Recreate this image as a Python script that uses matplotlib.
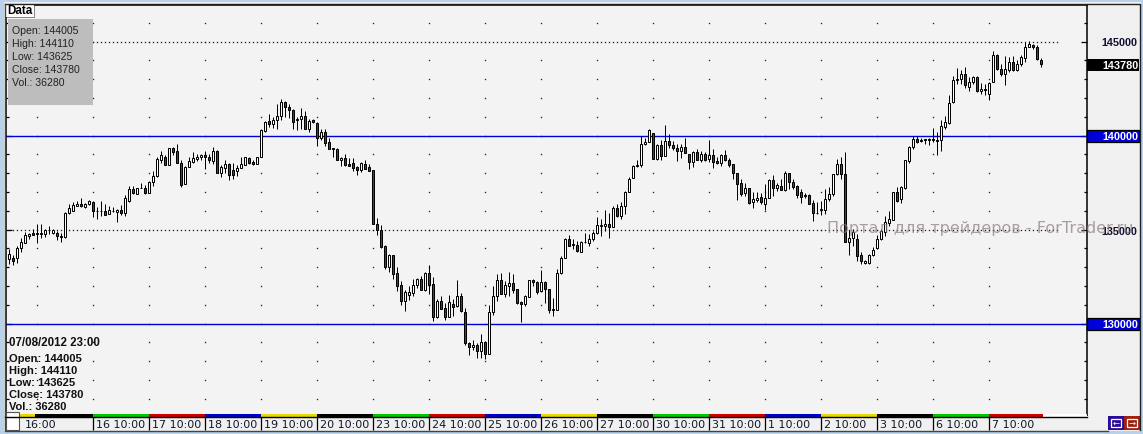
import numpy as np
import matplotlib
matplotlib.use('Agg')
import matplotlib.pyplot as plt
from matplotlib.patches import Rectangle
from matplotlib.transforms import ScaledTranslation

# hourly bars, 14 per trading day
wick_high = [
    133950, 133640, 134100, 134570, 134880, 134840, 135020, 135280, 135280, 135050, 135160, 135050, 134930, 134810,
    135940, 136350, 136470, 136530, 136650, 136400, 136560, 136510, 136220, 136490, 136350, 136260, 136220, 136080,
    136290, 136830, 137290, 137290, 137230, 137500, 137360, 137590, 138100, 138830, 139170, 138950, 139340, 139410,
    139540, 138710, 138390, 138830, 139100, 139040, 139010, 139180, 139010, 139410, 139240, 138420, 138690, 138560,
    138530, 138420, 138880, 138830, 138880, 138690, 138880, 140370, 140780, 141170, 140960, 141670, 141930, 141830,
    141700, 141400, 140960, 141460, 141320, 140870, 140870, 140730, 140370, 140340, 139890, 139310, 139310, 138830,
    139010, 138780, 138780, 138390, 138600, 138690, 138480, 138160, 135600, 135230, 134170, 133690, 133630, 132980,
    132270, 131760, 131970, 132390, 132430, 132540, 132730, 133100, 132500, 131290, 131470, 131080, 131510, 131290,
    132290, 131600, 130830, 128990, 129100, 128950, 129430, 129080, 130980, 131970, 132620, 132680, 132270, 132730,
    132610, 131860, 131210, 131540, 132340, 132390, 132270, 132820, 132250, 131860, 131380, 132890, 133600, 134570,
    134700, 134490, 134400, 134400, 134790, 134750, 134930, 135660, 135550, 136030, 135900, 136260, 136330, 136440,
    137070, 137770, 138440, 138690, 139950, 139890, 140340, 140120, 139570, 139770, 140550, 140070, 139720, 139570,
    139570, 139860, 139010, 139180, 139260, 139180, 139100, 139750, 139260, 138880, 139010, 139240, 138780, 138510,
    138000, 137680, 137460, 137230, 136970, 137000, 136950, 137410, 137680, 137890, 137500, 137710, 138120, 138030,
    137680, 137390, 137150, 136930, 136910, 136560, 136440, 136490, 137180, 137270, 137940, 138740, 138880, 139130,
    134980, 135020, 134750, 133790, 133400, 133710, 134060, 134720, 135040, 135740, 135960, 137020, 137250, 137340,
    138690, 139430, 140000, 139960, 139890, 139820, 139860, 140390, 140180, 140850, 141030, 142130, 143190, 143580,
    143460, 143630, 143100, 143160, 143160, 142780, 142750, 142840, 144490, 144340, 143780, 144220, 144170, 144220,
    143990, 144290, 145000, 145050, 144860, 144840, 144110,
]
body_high = [
    133690, 133480, 133990, 134310, 134700, 134750, 134790, 134790, 134790, 134970, 135000, 135000, 134840, 134680,
    135900, 136120, 136280, 136380, 136380, 136370, 136490, 136470, 136010, 135980, 135960, 136030, 136010, 136060,
    136060, 136650, 137180, 137180, 137220, 137230, 137230, 137550, 137820, 138740, 138940, 138880, 139330, 139310,
    139150, 138560, 138350, 138620, 138780, 138880, 138940, 138940, 138830, 139170, 139170, 138300, 138460, 138460,
    138160, 138260, 138460, 138830, 138790, 138580, 138850, 140270, 140740, 140760, 140830, 141050, 141760, 141760,
    141540, 141370, 140900, 141060, 141060, 140750, 140800, 140690, 140210, 140210, 139630, 139310, 139270, 138810,
    138780, 138460, 138560, 138300, 138530, 138510, 138300, 138140, 135270, 135000, 134100, 133630, 133620, 132680,
    132070, 131650, 131650, 132070, 132390, 132390, 132710, 132680, 132090, 131220, 131220, 130800, 131120, 131060,
    131440, 131440, 130590, 128970, 128870, 128880, 129040, 129040, 130590, 131440, 132290, 132290, 132040, 132130,
    132130, 131830, 131120, 131440, 132340, 132340, 132220, 132230, 132230, 131810, 130750, 132660, 133460, 134520,
    134520, 134220, 134200, 134360, 134340, 134470, 134790, 135250, 135250, 135300, 135270, 136120, 136120, 136260,
    137020, 137710, 138400, 138440, 139570, 139680, 140270, 140110, 139470, 139470, 139730, 139730, 139520, 139340,
    139410, 139410, 138990, 139100, 139100, 138990, 138990, 138940, 138940, 138620, 138950, 138940, 138720, 138480,
    137980, 137500, 137230, 137220, 136600, 136700, 136720, 136650, 137620, 137610, 137390, 137320, 138000, 137980,
    137550, 137310, 137020, 136810, 136810, 136400, 135900, 136080, 136610, 136910, 137930, 138460, 138460, 137930,
    134570, 134890, 134520, 133630, 133320, 133630, 133920, 134500, 134910, 135390, 135550, 137000, 137000, 137250,
    138690, 139380, 139800, 139790, 139770, 139790, 139800, 139790, 139750, 140500, 140710, 141720, 142940, 143000,
    143280, 143280, 142850, 143100, 143120, 142460, 142460, 142780, 144270, 144290, 143560, 143530, 143900, 143900,
    143810, 144170, 144730, 144860, 144840, 144730, 144005,
]
body_low = [
    133420, 133330, 133460, 134030, 134290, 134660, 134730, 134770, 134770, 134750, 134950, 134810, 134660, 134610,
    134610, 135870, 135990, 136260, 136260, 136220, 136350, 135990, 135960, 135960, 135780, 135830, 135960, 135940,
    135870, 135900, 136530, 136950, 136910, 137220, 136950, 136950, 137550, 137820, 138710, 138440, 138440, 139130,
    138550, 137380, 137430, 138330, 138600, 138740, 138870, 138830, 138690, 138650, 138030, 138030, 138280, 137910,
    137890, 138120, 138280, 138440, 138550, 138510, 138510, 138830, 140230, 140620, 140620, 140830, 141050, 141520,
    141370, 140740, 140800, 140890, 140350, 140350, 140730, 139880, 139860, 139610, 139290, 139260, 138720, 138710,
    138440, 138400, 138280, 138190, 138190, 138240, 138120, 135270, 135000, 134080, 133010, 133010, 132640, 132000,
    131210, 131210, 131530, 131630, 132060, 131790, 131790, 132060, 130350, 130350, 130780, 130350, 130350, 130900,
    130940, 130640, 128970, 128760, 128760, 128550, 128560, 128390, 128390, 130590, 131440, 131580, 131560, 132000,
    131790, 131100, 131060, 131050, 131420, 132230, 131670, 131740, 131810, 130730, 130730, 130730, 132660, 133510,
    134130, 134180, 133830, 133810, 134310, 134290, 134470, 134790, 135200, 135200, 135140, 135140, 135730, 135730,
    136260, 137000, 137750, 138390, 138420, 139560, 139680, 138760, 138760, 138920, 138920, 139500, 139340, 139200,
    139180, 139080, 138600, 138600, 138710, 138720, 138720, 138760, 138600, 138560, 138550, 138720, 138420, 137980,
    137430, 136900, 136950, 136420, 136470, 136580, 136440, 136370, 136650, 137230, 137200, 137110, 137090, 137540,
    137270, 136840, 136740, 136770, 136370, 135900, 135890, 136050, 136060, 136630, 136900, 137930, 137930, 134340,
    134340, 134570, 133600, 133300, 133240, 133210, 133620, 134020, 134470, 134890, 135370, 135530, 136540, 136610,
    137230, 138650, 139380, 139660, 139700, 139750, 139750, 139750, 139730, 139750, 140460, 140670, 141760, 142940,
    143000, 142710, 142570, 142840, 142360, 142360, 142410, 142230, 142820, 143550, 143260, 143260, 143510, 143460,
    143460, 143780, 144110, 144730, 144730, 144060, 143780,
]
wick_low = [
    133160, 133100, 133210, 133780, 134290, 134490, 134700, 134270, 134570, 134610, 134750, 134750, 134450, 134340,
    134570, 135820, 135990, 136240, 136220, 136120, 136290, 135690, 135550, 135730, 135760, 135800, 135940, 135410,
    135760, 135730, 136470, 136880, 136910, 137220, 136910, 136950, 137320, 137800, 138530, 138440, 138440, 138950,
    138550, 137270, 137430, 138330, 138530, 138670, 138710, 138210, 138560, 138480, 138000, 137800, 137980, 137620,
    137680, 137820, 138280, 138440, 138480, 138440, 138490, 138830, 140200, 140460, 140410, 140320, 140830, 141010,
    140920, 140340, 140280, 140370, 140350, 140180, 140640, 139450, 139770, 139450, 139270, 138870, 138720, 138390,
    138390, 138390, 138120, 137890, 138070, 138210, 138120, 135270, 134700, 134030, 132890, 132750, 132390, 131720,
    130980, 130660, 131260, 131470, 131900, 131760, 131720, 131560, 130120, 130280, 130780, 130180, 130320, 130410,
    130870, 130620, 128870, 128330, 128600, 128170, 128170, 128120, 128390, 130440, 131210, 131560, 131420, 131470,
    131610, 131060, 130090, 130940, 131420, 132000, 131560, 131700, 131100, 130550, 130410, 130730, 132620, 133510,
    134100, 133950, 133780, 133790, 134270, 134130, 134400, 134770, 134660, 134930, 134560, 135140, 135640, 135550,
    135820, 137000, 137750, 138330, 138320, 139520, 139630, 138740, 138690, 138710, 138920, 139360, 139240, 138630,
    138780, 139080, 138230, 138320, 138710, 138600, 138620, 138600, 138260, 138480, 138400, 138630, 138350, 137680,
    136580, 136790, 136790, 136350, 136130, 136440, 136380, 136050, 136650, 136790, 137060, 137110, 137040, 137180,
    137180, 136670, 136420, 136680, 136330, 135440, 135820, 135760, 135820, 136520, 136790, 137890, 137680, 134340,
    133630, 134130, 133330, 133140, 133140, 133140, 133580, 133970, 134430, 134680, 135180, 135530, 136470, 136420,
    137130, 138550, 139260, 139610, 139660, 139560, 139520, 139680, 138940, 139180, 140370, 140600, 141740, 142750,
    142730, 142540, 142390, 142750, 142340, 142220, 142180, 141910, 142820, 143460, 143190, 142660, 143370, 143440,
    143440, 143720, 143900, 144720, 144610, 144040, 143625,
]
up_bars = [
    1, 0, 1, 1, 1, 1, 0, 1, 1, 1, 0, 1, 0, 0,
    1, 1, 1, 1, 0, 1, 1, 0, 0, 1, 0, 1, 0, 1,
    0, 1, 1, 0, 1, 1, 0, 1, 1, 1, 1, 0, 1, 0,
    0, 0, 1, 1, 1, 1, 1, 0, 0, 1, 0, 1, 1, 0,
    0, 1, 1, 1, 0, 0, 1, 1, 1, 0, 1, 1, 1, 0,
    0, 0, 1, 1, 0, 1, 0, 0, 1, 0, 0, 0, 0, 1,
    0, 0, 0, 0, 1, 0, 0, 0, 0, 0, 0, 1, 0, 0,
    0, 1, 1, 1, 1, 0, 1, 0, 0, 1, 0, 0, 1, 0,
    1, 0, 0, 0, 1, 0, 1, 0, 1, 1, 1, 0, 1, 1,
    0, 0, 0, 1, 1, 0, 0, 1, 0, 0, 1, 1, 1, 1,
    0, 1, 0, 1, 0, 1, 1, 1, 1, 1, 0, 1, 0, 1,
    1, 1, 1, 1, 1, 1, 1, 0, 1, 0, 1, 0, 0, 0,
    1, 0, 0, 1, 0, 1, 0, 1, 0, 0, 1, 0, 0, 0,
    0, 0, 1, 0, 1, 1, 0, 1, 1, 0, 1, 0, 1, 0,
    0, 0, 0, 1, 0, 0, 1, 1, 1, 1, 1, 1, 0, 0,
    1, 1, 0, 0, 1, 1, 1, 1, 1, 1, 1, 1, 0, 1,
    1, 1, 1, 0, 0, 1, 1, 0, 0, 1, 1, 1, 1, 0,
    1, 0, 1, 1, 0, 1, 0, 1, 1, 0, 0, 1, 1, 0,
    1, 1, 1, 1, 0, 0, 0,
]

day_labels = ['16 10:00', '17 10:00', '18 10:00', '19 10:00', '20 10:00', '23 10:00', '24 10:00',
              '25 10:00', '26 10:00', '27 10:00', '30 10:00', '31 10:00', '1 10:00', '2 10:00',
              '3 10:00', '6 10:00', '7 10:00']
day_colors = ['#00c800', '#d00000', '#0000c8', '#e6d800', '#000000']
ohlc_lines = ['Open: 144005', 'High: 144110', 'Low: 143625', 'Close: 143780', 'Vol.: 36280']
hlines = [140000, 130000]
dotted_levels = [145000, 135000]
WATERMARK = 'Портал для трейдеров - ForTrader.ru'

W, H = 1143, 435
BAR_PX = 4.0
X0_PX = 9.3           # pixel centre of bar 0
LEFT, RIGHT, TOP, BOTTOM = 6, 1087, 6, 416
PX_PER_1000 = 18.8


def price_at(y_px):
    return 145000 - (y_px - 42.5) / PX_PER_1000 * 1000


def bar_at(x_px):
    return (x_px - X0_PX) / BAR_PX


fig = plt.figure(figsize=(W / 100, H / 100), dpi=100, facecolor='#f0f0f0')

# main chart axes
ax = fig.add_axes([LEFT / W, 1 - BOTTOM / H, (RIGHT - LEFT) / W, (BOTTOM - TOP) / H], zorder=1)
ax.set_facecolor('#f3f3f3')
ax.set_xlim(bar_at(LEFT), bar_at(RIGHT))
ax.set_ylim(price_at(BOTTOM), price_at(TOP))

x = np.arange(len(wick_high))
wick_high = np.array(wick_high)
wick_low = np.array(wick_low)
body_high = np.array(body_high)
body_low = np.array(body_low)
up = np.array(up_bars) == 1

# grid of dots, every 14 bars and every 1000 points
dot_bars = np.arange(7, 246, 14)
dot_levels = np.arange(126000, 146001, 1000)
gx, gy = np.meshgrid(dot_bars, dot_levels)
ax.plot(gx.ravel(), gy.ravel(), ls='', marker='s', ms=0.95, mew=0, color='#202020', zorder=1)

dense = np.arange(-1, 263)
for lvl in dotted_levels:
    ax.plot(dense, np.full(dense.shape, lvl), ls='', marker='s', ms=0.95, mew=0, color='#202020', zorder=1)

for lvl in hlines:
    ax.axhline(lvl, color='#0000d8', lw=1.0, zorder=2)

# candles
ax.vlines(x, wick_low, wick_high, color='black', lw=0.72, zorder=3)
ax.bar(x[up], (body_high - body_low)[up], bottom=body_low[up], width=0.5,
       facecolor='white', edgecolor='black', linewidth=0.72, zorder=4)
ax.bar(x[~up], (body_high - body_low)[~up], bottom=body_low[~up], width=0.5,
       facecolor='#444444', edgecolor='black', linewidth=0.72, zorder=4)

# x axis, label sits right of its tick
ticks = 21 + 14 * np.arange(len(day_labels))
ax.set_xticks(ticks)
ax.set_xticklabels(day_labels, ha='left', fontsize=8, color='#101828')
ax.tick_params(axis='x', length=11, width=0.9, pad=-8, color='black')
shift = ScaledTranslation(2 / 72, 0, fig.dpi_scale_trans)
for lab in ax.get_xticklabels():
    lab.set_transform(lab.get_transform() + shift)

# y axis on both sides, inner short ticks
ax.set_yticks([145000, 140000, 135000, 130000])
ax.set_yticklabels(['145000', '', '135000', ''], family='Liberation Sans', fontweight='bold',
                   fontsize=7.8, color='#101030')
ax.set_yticks(np.arange(126000, 147000, 1000), minor=True)
ax.yaxis.tick_right()
ax.tick_params(axis='y', which='major', direction='in', length=4, width=0.9, pad=10, left=True, right=True)
ax.tick_params(axis='y', which='minor', direction='in', length=2.2, width=0.9, left=True, right=True)
for s in ax.spines.values():
    s.set_linewidth(1.1)

# chrome drawn in pixel coordinates on top of the chart
over = fig.add_axes([0, 0, 1, 1], zorder=2)
over.set_xlim(0, W)
over.set_ylim(H, 0)
over.axis('off')


def box(x0, y0, x1, y1, **kw):
    kw.setdefault('linewidth', 0)
    over.add_patch(Rectangle((x0, y0), x1 - x0, y1 - y0, **kw))


# window frame
box(0, 0, W, 3, facecolor='#b9d1ea')
box(0, 0, 4, H, facecolor='#b9d1ea')
box(0, 432, W, H, facecolor='#b9d1ea')
box(1141, 0, W, H, facecolor='#b9d1ea')
over.plot([5, 1140, 1140], [4.5, 4.5, 431], color='#222222', lw=1)
over.plot([5, 5, 1108], [4.5, 431.5, 431.5], color='#444444', lw=1)
over.plot([5, 1087], [417.8, 417.8], color='black', lw=1)

# day stripe under the plot
box(20, 415, 35, 417.5, facecolor='#e6d800')
box(35, 415, 93.3, 417.5, facecolor='#000000')
for k in range(len(day_labels)):
    x0 = 93.3 + 56 * k
    x1 = min(x0 + 56, 1043)
    box(x0, 415, x1, 417.5, facecolor=day_colors[k % 5])
box(1043, 415, 1087, 417.5, facecolor='white')
box(6, 413, 19, 431, facecolor='white', edgecolor='#555555', linewidth=0.8)
over.text(25, 425, '16:00', fontsize=8, color='#101828', va='center', ha='left')

# Data tab and info box
box(7, 7, 35, 19, facecolor='#888888')
box(6, 6, 33.5, 17.5, facecolor='white')
over.text(7.5, 11.5, 'Data', family='Liberation Sans', fontweight='bold', fontsize=8.4, va='center', color='black')
box(8, 20, 93, 106, facecolor='#bdbdbd')
for k, line in enumerate(ohlc_lines):
    over.text(12, 31 + 13 * k, line, family='Liberation Sans', fontsize=7.6, va='center', color='#222222')

# bottom left readout
over.text(9, 343.5, '07/08/2012 23:00', family='Liberation Sans', fontweight='bold', fontsize=8.3, va='center', color='#101010')
for k, line in enumerate(ohlc_lines):
    over.text(9, 359.5 + 12 * k, line, family='Liberation Sans', fontweight='bold', fontsize=8.0, va='center', color='#101010')

# price boxes
box(1087, 60, 1139, 72, facecolor='black')
over.text(1102, 66.2, '143780', family='Liberation Sans', fontweight='bold', fontsize=7.8, color='white', va='center')
for lvl, yc in zip(hlines, [136.5, 324.5]):
    box(1087, yc - 5.5, 1139, yc + 6, facecolor='#0000d8', edgecolor='black', linewidth=0.9)
    over.text(1102, yc + 0.3, str(lvl), family='Liberation Sans', fontweight='bold', fontsize=7.8, color='white', va='center')

# watermark
over.text(827, 228.5, WATERMARK, family='DejaVu Sans', fontsize=11.5, color='#8a7a7a', alpha=0.7, va='center', ha='left')

# scroll buttons
box(1108, 417, 1124, 431, facecolor='#2a0a9a')
box(1124, 417, 1140, 431, facecolor='#a02010')
box(1111, 420, 1121, 428, facecolor='none', edgecolor='white', linewidth=0.9)
box(1127, 420, 1137, 428, facecolor='none', edgecolor='white', linewidth=0.9)
over.text(1116, 423.6, '←', fontsize=6, color='white', ha='center', va='center')
over.text(1132, 423.6, '→', fontsize=6, color='white', ha='center', va='center')

fig.savefig('out.png', dpi=100, facecolor=fig.get_facecolor())
